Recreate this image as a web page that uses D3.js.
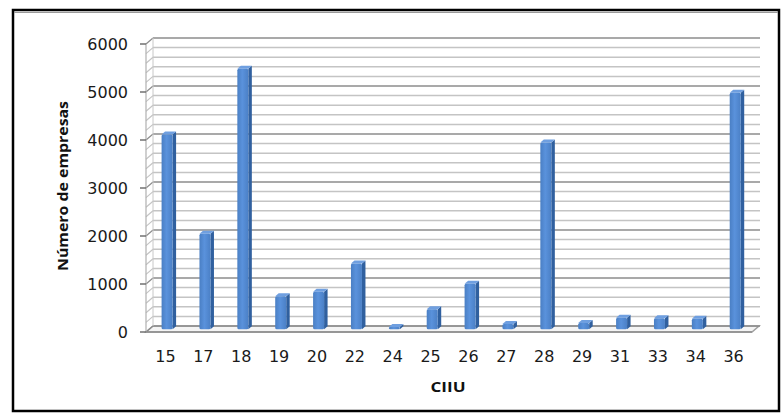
<!DOCTYPE html>
<html>
<head>
<meta charset="utf-8">
<script src="https://cdn.jsdelivr.net/npm/d3@7"></script>
<style>
  html, body { margin: 0; padding: 0; background: #fff; }
  svg { display: block; }
</style>
</head>
<body>
<svg id="chart" width="784" height="419"></svg>
<script>
// Number of firms by CIIU industry code
const categories = ["15","17","18","19","20","22","24","25","26","27","28","29","31","33","34","36"];
const empresas   = [4060, 1990, 5430, 690, 780, 1370, 50, 420, 950, 110, 3890, 130, 240, 230, 220, 4930];
const yTicks     = [0, 1000, 2000, 3000, 4000, 5000, 6000];
const minorStep  = 200;

const svg = d3.select("#chart");

// front plane of the 3-D box and its depth offset
const front = { left: 146, right: 752, bottom: 332, top: 44 };
const depth = { dx: 7, dy: -6 };

const x = d3.scaleBand().domain(categories).range([front.left, front.right]).paddingInner(0).paddingOuter(0);
const y = d3.scaleLinear().domain([0, 6000]).range([front.bottom, front.top]);

// outer frame
svg.append("rect").attr("x", 13).attr("y", 10).attr("width", 766).attr("height", 401)
  .attr("fill", "none").attr("stroke", "#000").attr("stroke-width", 2.5);
svg.append("line").attr("x1", 14).attr("x2", 778).attr("y1", 12.5).attr("y2", 12.5)
  .attr("stroke", "#9a9a9a").attr("stroke-width", 1);

const walls = svg.append("g");

// floor
const fl = front.left, fr = front.right, fb = front.bottom;
walls.append("path")
  .attr("d", `M${fl},${fb} L${fr},${fb} L${fr + depth.dx},${fb + depth.dy} L${fl + depth.dx},${fb + depth.dy} Z`)
  .attr("fill", "#f4f4f4").attr("stroke", "#a0a0a0").attr("stroke-width", 1.5);

// gridlines on back wall and side wall
const gridVals = d3.range(0, 6001, minorStep);
gridVals.forEach(v => {
  const major = v % 1000 === 0;
  const col = major ? "#8c8c8c" : "#c4c4c4";
  const yb = y(v) + depth.dy;
  walls.append("line")
    .attr("x1", fl + depth.dx).attr("x2", fr + depth.dx + 1)
    .attr("y1", yb).attr("y2", yb)
    .attr("stroke", col).attr("stroke-width", major ? 1.7 : 1.5);
  walls.append("line")
    .attr("x1", fl).attr("y1", y(v))
    .attr("x2", fl + depth.dx).attr("y2", yb)
    .attr("stroke", col).attr("stroke-width", 1.2);
});
// side wall verticals
walls.append("line").attr("x1", fl).attr("x2", fl).attr("y1", y(6000)).attr("y2", fb)
  .attr("stroke", "#b0b0b0").attr("stroke-width", 1.2);
walls.append("line").attr("x1", fl + depth.dx).attr("x2", fl + depth.dx)
  .attr("y1", y(6000) + depth.dy).attr("y2", fb + depth.dy)
  .attr("stroke", "#c8c8c8").attr("stroke-width", 1);
// floor front edge
walls.append("line").attr("x1", fl).attr("x2", fr).attr("y1", fb).attr("y2", fb)
  .attr("stroke", "#8c8c8c").attr("stroke-width", 1.6);

// y axis ticks and labels
const axisG = svg.append("g");
yTicks.forEach(v => {
  axisG.append("line").attr("x1", fl - 6).attr("x2", fl).attr("y1", y(v)).attr("y2", y(v))
    .attr("stroke", "#707070").attr("stroke-width", 1.5);
  axisG.append("text").attr("x", 128).attr("y", y(v)).attr("dy", "0.36em")
    .attr("text-anchor", "end")
    .attr("font-family", "DejaVu Sans, Verdana, sans-serif").attr("font-size", 16)
    .attr("fill", "#1a1a1a").text(v);
});

// x labels
categories.forEach(c => {
  axisG.append("text").attr("x", x(c) + x.bandwidth() / 2 + 0.5).attr("y", 362)
    .attr("text-anchor", "middle")
    .attr("font-family", "DejaVu Sans, Verdana, sans-serif").attr("font-size", 16)
    .attr("fill", "#1a1a1a").text(c);
});

// axis titles
svg.append("text").attr("x", 448).attr("y", 392).attr("text-anchor", "middle")
  .attr("font-family", "Open Sans, Liberation Sans, sans-serif").attr("font-weight", "bold")
  .attr("font-size", 15).attr("textLength", 35).attr("lengthAdjust", "spacingAndGlyphs")
  .attr("fill", "#111").text("CIIU");
svg.append("text")
  .attr("transform", "translate(68,186) rotate(-90)")
  .attr("text-anchor", "middle")
  .attr("font-family", "Open Sans, Liberation Sans, sans-serif").attr("font-weight", "bold")
  .attr("font-size", 15).attr("textLength", 170).attr("lengthAdjust", "spacingAndGlyphs")
  .attr("fill", "#111").text("Número de empresas");

// bars: front face with a gradient, darker side, lighter top
const defs = svg.append("defs");
const grad = defs.append("linearGradient").attr("id", "barFront").attr("x1", "0").attr("x2", "1");
grad.append("stop").attr("offset", "0").attr("stop-color", "#4a7fc4");
grad.append("stop").attr("offset", "0.45").attr("stop-color", "#5a92dc");
grad.append("stop").attr("offset", "1").attr("stop-color", "#4b80c6");

const barW = 11;
const bd = { dx: 3.5, dy: -3 };   // bar depth
const mid = { dx: depth.dx * 0.45, dy: depth.dy * 0.45 };

const bars = svg.append("g").selectAll("g").data(categories.map((c, i) => ({ c, v: empresas[i] })))
  .join("g");

bars.each(function (d) {
  const g = d3.select(this);
  const x0 = x(d.c) + x.bandwidth() / 2 - barW / 2 + mid.dx - 1;
  const x1 = x0 + barW;
  const yTop = y(d.v) + mid.dy;
  const yBot = y(0) + mid.dy;
  // side
  g.append("path")
    .attr("d", `M${x1},${yTop} L${x1 + bd.dx},${yTop + bd.dy} L${x1 + bd.dx},${yBot + bd.dy} L${x1},${yBot} Z`)
    .attr("fill", "#30609f");
  // top
  g.append("path")
    .attr("d", `M${x0},${yTop} L${x1},${yTop} L${x1 + bd.dx},${yTop + bd.dy} L${x0 + bd.dx},${yTop + bd.dy} Z`)
    .attr("fill", "#6f9fe0");
  // front
  g.append("rect").attr("x", x0).attr("y", yTop).attr("width", barW).attr("height", Math.max(0, yBot - yTop))
    .attr("rx", 1.5)
    .attr("fill", "url(#barFront)");
});
</script>
</body>
</html>
